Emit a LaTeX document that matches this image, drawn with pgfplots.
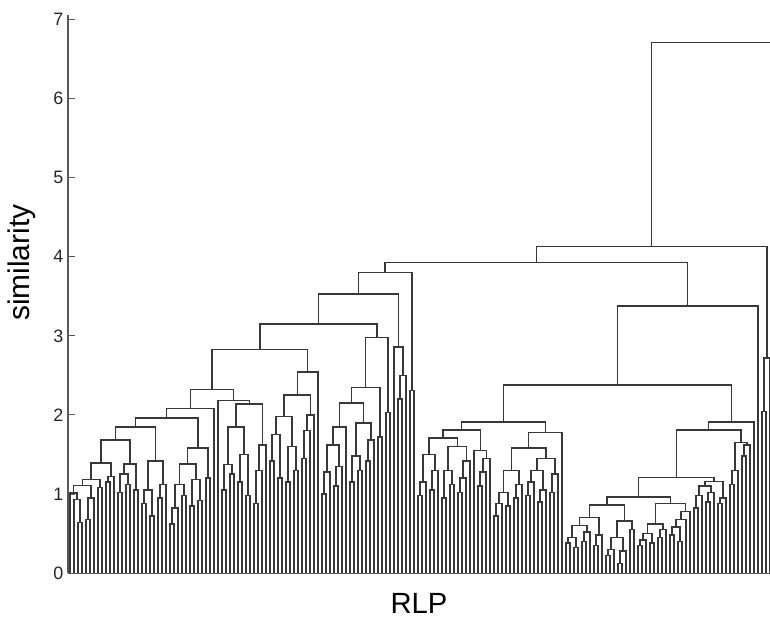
\documentclass[border=0pt]{standalone}
\usepackage{fontspec}
\setmainfont{Liberation Sans}
\usepackage{pgfplots}
\pgfplotsset{compat=1.18}
\pgfplotsset{dd/.style={black!78, line width=1.1bp, mark=none, line join=miter}}
\newcommand{\lk}[5]{\addplot[dd] coordinates {(#1,#2) (#1,#5) (#3,#5) (#3,#4)};}
\begin{document}
\begin{tikzpicture}
\path[use as bounding box] (-51bp,-34.5bp) rectangle (526.5bp,429.8bp);
\begin{axis}[
  at={(0,0)}, anchor=south west, scale only axis,
  width=526.5bp, height=418.7bp,
  xmin=68, xmax=770, ymin=0, ymax=7.06,
  axis x line*=bottom, axis y line*=left,
  axis line style={black!65, line width=0.8bp},
  xtick=\empty, ytick={0,1,2,3,4,5,6,7},
  tick align=inside, major tick length=5bp,
  tick style={black!65, line width=0.8bp},
  /pgf/number format/assume math mode=true,
  yticklabel style={font=\fontsize{13.5}{16}\selectfont, text=black!85},
  ylabel={similarity}, xlabel={RLP},
  ylabel style={at={(axis description cs:-0.0655,0.556)}, anchor=center, font=\fontsize{22.5}{26}\selectfont},
  xlabel style={at={(axis description cs:0.5,-0.0542)}, anchor=center, font=\fontsize{22}{26}\selectfont},
  clip=true,
]
% group A
\lk{78}{0}{82}{0}{0.64}
\lk{74}{0}{80}{0.64}{0.93}
\lk{70}{0}{77}{0.93}{1.01}
\lk{86}{0}{90}{0}{0.68}
\lk{88}{0.68}{94}{0}{0.95}
\lk{73.5}{1.01}{91}{0.95}{1.11}
\lk{98}{0}{102}{0}{1.08}
\lk{82.25}{1.11}{100}{1.08}{1.18}
\lk{106}{0}{110}{0}{1.15}
\lk{108}{1.15}{114}{0}{1.22}
\lk{91.125}{1.18}{111}{1.22}{1.39}
% group B
\lk{118}{0}{122}{0}{1.02}
\lk{126}{0}{130}{0}{1.12}
\lk{120}{1.02}{128}{1.12}{1.25}
\lk{134}{0}{138}{0}{1.05}
\lk{124}{1.25}{136}{1.05}{1.38}
\lk{101.06}{1.39}{130}{1.38}{1.68}
% group C
\lk{142}{0}{146}{0}{0.88}
\lk{150}{0}{154}{0}{0.72}
\lk{144}{0.88}{152}{0.72}{1.05}
\lk{158}{0}{162}{0}{0.95}
\lk{160}{0.95}{166}{0}{1.12}
\lk{148}{1.05}{163}{1.12}{1.42}
\lk{115.53}{1.68}{155.5}{1.42}{1.85}
% group D
\lk{170}{0}{174}{0}{0.62}
\lk{172}{0.62}{178}{0}{0.82}
\lk{182}{0}{186}{0}{0.98}
\lk{175}{0.82}{184}{0.98}{1.12}
\lk{190}{0}{194}{0}{0.85}
\lk{198}{0}{202}{0}{0.92}
\lk{192}{0.85}{200}{0.92}{1.18}
\lk{179.5}{1.12}{196}{1.18}{1.38}
\lk{206}{0}{210}{0}{1.2}
\lk{187.75}{1.38}{208}{1.2}{1.58}
\lk{135.52}{1.85}{197.875}{1.58}{1.96}
\lk{166.7}{1.96}{214}{0}{2.08}
% group s
\lk{222}{0}{226}{0}{1.05}
\lk{230}{0}{234}{0}{1.25}
\lk{224}{1.05}{232}{1.25}{1.37}
\lk{238}{0}{242}{0}{1.15}
\lk{246}{0}{250}{0}{0.98}
\lk{240}{1.15}{248}{0.98}{1.5}
\lk{228}{1.37}{244}{1.5}{1.85}
\lk{254}{0}{258}{0}{0.88}
\lk{256}{0.88}{262}{0}{1.3}
\lk{259}{1.3}{266}{0}{1.62}
\lk{236}{1.85}{262.5}{1.62}{2.14}
\lk{218}{0}{249.25}{2.14}{2.18}
\lk{190.35}{2.08}{233.625}{2.18}{2.32}
% group x
\lk{270}{0}{274}{0}{1.42}
\lk{278}{0}{282}{0}{1.2}
\lk{272}{1.42}{280}{1.2}{1.75}
\lk{286}{0}{290}{0}{1.15}
\lk{294}{0}{298}{0}{1.3}
\lk{288}{1.15}{296}{1.3}{1.6}
\lk{276}{1.75}{292}{1.6}{1.98}
\lk{302}{0}{306}{0}{1.45}
\lk{304}{1.45}{310}{0}{1.8}
\lk{307}{1.8}{314}{0}{2.0}
\lk{284}{1.98}{310.5}{2.0}{2.25}
\lk{297.25}{2.25}{318}{0}{2.54}
\lk{211.99}{2.32}{307.625}{2.54}{2.83}
% group t
\lk{322}{0}{326}{0}{1.0}
\lk{324}{1.0}{330}{0}{1.28}
\lk{334}{0}{338}{0}{1.1}
\lk{336}{1.1}{342}{0}{1.35}
\lk{327}{1.28}{339}{1.35}{1.62}
\lk{333}{1.62}{346}{0}{1.85}
\lk{350}{0}{354}{0}{1.15}
\lk{358}{0}{362}{0}{1.3}
\lk{352}{1.15}{360}{1.3}{1.48}
\lk{366}{0}{370}{0}{1.42}
\lk{368}{1.42}{374}{0}{1.68}
\lk{356}{1.48}{371}{1.68}{1.9}
\lk{339.5}{1.85}{363.5}{1.9}{2.15}
\lk{378}{0}{382}{0}{1.72}
\lk{351.5}{2.15}{380}{1.72}{2.35}
\lk{386}{0}{390}{0}{2.03}
\lk{365.75}{2.35}{388}{2.03}{2.98}
\lk{259.81}{2.83}{376.875}{2.98}{3.15}
% group W, Z
\lk{398}{0}{402}{0}{2.2}
\lk{400}{2.2}{406}{0}{2.5}
\lk{394}{0}{403}{2.5}{2.86}
\lk{318.34}{3.15}{398.5}{2.86}{3.53}
\lk{410}{0}{414}{0}{2.31}
\lk{358.42}{3.53}{412}{2.31}{3.80}
% group p, q, r
\lk{418}{0}{422}{0}{0.98}
\lk{420}{0.98}{426}{0}{1.15}
\lk{430}{0}{434}{0}{1.05}
\lk{432}{1.05}{438}{0}{1.3}
\lk{423}{1.15}{435}{1.3}{1.5}
\lk{442}{0}{446}{0}{0.95}
\lk{450}{0}{454}{0}{1.12}
\lk{444}{0.95}{452}{1.12}{1.3}
\lk{458}{0}{462}{0}{1.02}
\lk{460}{1.02}{466}{0}{1.2}
\lk{463}{1.2}{470}{0}{1.42}
\lk{448}{1.3}{466.5}{1.42}{1.6}
\lk{429}{1.5}{457.25}{1.6}{1.71}
\lk{478}{0}{482}{0}{1.1}
\lk{480}{1.1}{486}{0}{1.28}
\lk{483}{1.28}{490}{0}{1.45}
\lk{474}{0}{486.5}{1.45}{1.55}
\lk{443.125}{1.71}{480.25}{1.55}{1.81}
% group u, v
\lk{494}{0}{498}{0}{0.72}
\lk{496}{0.72}{502}{0}{0.88}
\lk{506}{0}{510}{0}{0.85}
\lk{499}{0.88}{508}{0.85}{1.02}
\lk{514}{0}{518}{0}{0.95}
\lk{516}{0.95}{522}{0}{1.12}
\lk{503.5}{1.02}{519}{1.12}{1.3}
\lk{526}{0}{530}{0}{0.98}
\lk{528}{0.98}{534}{0}{1.15}
\lk{538}{0}{542}{0}{0.9}
\lk{540}{0.9}{546}{0}{1.05}
\lk{531}{1.15}{543}{1.05}{1.3}
\lk{550}{0}{554}{0}{1.02}
\lk{552}{1.02}{558}{0}{1.25}
\lk{537}{1.3}{555}{1.25}{1.45}
\lk{511.25}{1.3}{546}{1.45}{1.58}
\lk{528.625}{1.58}{562}{0}{1.78}
\lk{461.69}{1.81}{545.31}{1.78}{1.91}
% group g
\lk{566}{0}{570}{0}{0.38}
\lk{574}{0}{578}{0}{0.32}
\lk{568}{0.38}{576}{0.32}{0.45}
\lk{582}{0}{586}{0}{0.4}
\lk{584}{0.4}{590}{0}{0.52}
\lk{572}{0.45}{587}{0.52}{0.6}
\lk{594}{0}{598}{0}{0.35}
\lk{596}{0.35}{602}{0}{0.48}
\lk{579.5}{0.6}{599}{0.48}{0.70}
\lk{606}{0}{610}{0}{0.22}
\lk{608}{0.22}{614}{0}{0.3}
\lk{618}{0}{622}{0}{0.12}
\lk{620}{0.12}{626}{0}{0.28}
\lk{611}{0.3}{623}{0.28}{0.45}
\lk{630}{0}{634}{0}{0.55}
\lk{617}{0.45}{632}{0.55}{0.66}
\lk{589.25}{0.70}{624.5}{0.66}{0.86}
% group h
\lk{638}{0}{642}{0}{0.35}
\lk{640}{0.35}{646}{0}{0.42}
\lk{650}{0}{654}{0}{0.38}
\lk{643}{0.42}{652}{0.38}{0.5}
\lk{658}{0}{662}{0}{0.45}
\lk{660}{0.45}{666}{0}{0.55}
\lk{647.5}{0.5}{663}{0.55}{0.62}
\lk{670}{0}{674}{0}{0.48}
\lk{678}{0}{682}{0}{0.4}
\lk{672}{0.48}{680}{0.4}{0.58}
\lk{676}{0.58}{686}{0}{0.68}
\lk{681}{0.68}{690}{0}{0.78}
\lk{655.25}{0.62}{685.5}{0.78}{0.88}
\lk{606.875}{0.86}{670.375}{0.88}{0.96}
% group m
\lk{694}{0}{698}{0}{0.82}
\lk{696}{0.82}{702}{0}{0.98}
\lk{706}{0}{710}{0}{0.9}
\lk{708}{0.9}{714}{0}{1.02}
\lk{699}{0.98}{711}{1.02}{1.1}
\lk{718}{0}{722}{0}{0.88}
\lk{720}{0.88}{726}{0}{0.95}
\lk{705}{1.1}{723}{0.95}{1.16}
\lk{638.625}{0.96}{714}{1.16}{1.21}
% group y and top
\lk{730}{0}{734}{0}{1.12}
\lk{732}{1.12}{738}{0}{1.3}
\lk{742}{0}{746}{0}{1.48}
\lk{744}{1.48}{750}{0}{1.62}
\lk{735}{1.3}{747}{1.62}{1.65}
\lk{676.31}{1.21}{741}{1.65}{1.81}
\lk{708.66}{1.81}{754}{0}{1.91}
\lk{503.5}{1.91}{731.33}{1.91}{2.38}
\lk{617.42}{2.38}{758}{0}{3.38}
\lk{385.21}{3.80}{687.71}{3.38}{3.93}
\lk{762}{0}{766}{0}{2.04}
\lk{764}{2.04}{770}{0}{2.72}
\lk{536.46}{3.93}{767}{2.72}{4.13}
\lk{651.73}{4.13}{790}{0}{6.71}
\end{axis}
\end{tikzpicture}
\end{document}
